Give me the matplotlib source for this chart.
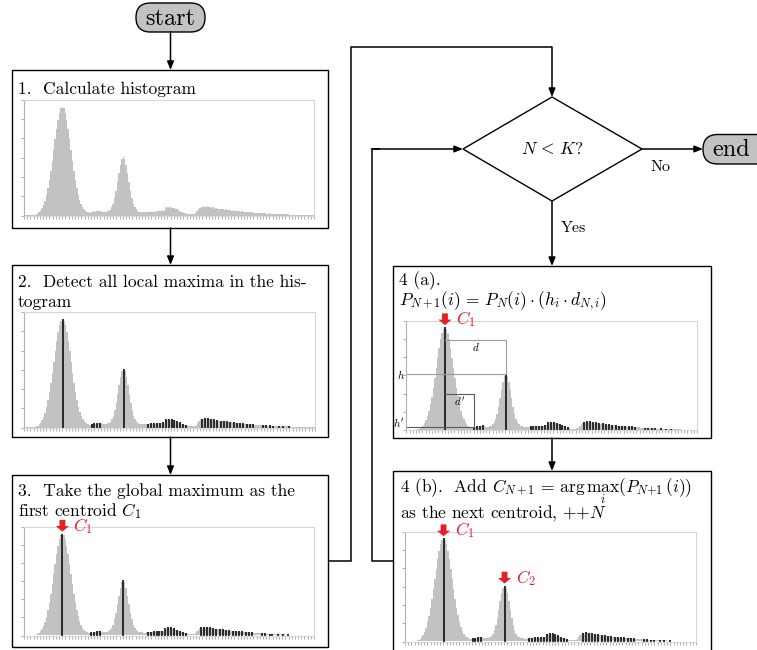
import numpy as np
import matplotlib
matplotlib.use('Agg')
import matplotlib.pyplot as plt
from matplotlib.patches import FancyBboxPatch, Rectangle, Polygon
import matplotlib.transforms as mtransforms

plt.rcParams['font.family'] = 'cmr10'
plt.rcParams['mathtext.fontset'] = 'cm'
plt.rcParams['axes.unicode_minus'] = False

# ---------------- data (histogram, 200 bins) ----------------
hist = [
    1, 1, 1, 2, 2, 3, 4, 6, 10, 17,
    27, 41, 62, 90, 127, 174, 234, 304, 385, 474,
    568, 662, 750, 827, 886, 924, 937, 924, 886, 827,
    750, 662, 568, 474, 386, 306, 237, 178, 132, 96,
    70, 52, 39, 31, 26, 24, 30, 27, 36, 33,
    41, 37, 42, 36, 31, 29, 31, 35, 40, 51,
    71, 101, 148, 210, 288, 368, 438, 489, 507, 489,
    438, 368, 288, 210, 148, 101, 71, 52, 40, 33,
    30, 28, 27, 26, 28, 32, 30, 35, 33, 37,
    34, 39, 36, 40, 38, 45, 42, 70, 64, 76,
    68, 74, 62, 66, 52, 55, 42, 45, 32, 34,
    22, 24, 15, 13, 11, 10, 11, 14, 22, 38,
    55, 68, 76, 70, 82, 74, 80, 72, 77, 66,
    70, 60, 64, 56, 58, 60, 52, 57, 49, 53,
    46, 50, 44, 42, 44, 38, 41, 36, 39, 33,
    37, 32, 31, 34, 29, 32, 27, 30, 25, 24,
    23, 22, 21, 20, 22, 18, 20, 16, 17, 18,
    15, 17, 13, 12, 13, 14, 11, 11, 12, 10,
    9, 9, 10, 8, 7, 6, 6, 5, 5, 4,
    4, 4, 3, 3, 3, 2, 2, 2, 1, 1,
]
y_max = 1000
d_box_level = 823      # height of the "d" bracket in panel 4(a)
dp_box_level = 326     # height of the "d'" bracket in panel 4(a)

texts_box1 = ["1.  Calculate histogram"]
texts_box2 = ["2.  Detect all local maxima in the his-", "togram"]
texts_box3 = ["3.  Take the global maximum as the", "first centroid $C_1$"]
texts_box4a = ["4 (a).", r"$P_{N+1}(i)\,=\,P_N(i) \cdot (h_i \cdot d_{N,i})$"]
texts_box4b = [r"4 (b).  Add $C_{N+1}\,=\,\arg\max_i(P_{N+1}(i))$", "as the next centroid, ${+}{+}N$"]

h = np.array(hist)
n = len(h)
maxima = np.array([i for i in range(1, n - 1) if h[i] > h[i - 1] and h[i] > h[i + 1]])
order = maxima[np.argsort(h[maxima])[::-1]]
c1, c2 = order[0], order[1]
dp = [m for m in maxima if m > c1 and m != c2][0]

RED = '#e41f26'
GRAY = '#c2c2c2'

W, H = 757, 650
fig = plt.figure(figsize=(W / 100, H / 100), dpi=100)
base = fig.add_axes([0, 0, 1, 1])
base.set_xlim(0, W)
base.set_ylim(H, 0)
base.axis('off')

FS = 12.5


def box(x0, y0, x1, y1):
    base.add_patch(Rectangle((x0, y0), x1 - x0, y1 - y0, fill=False, lw=1.0, ec='black', zorder=2))


def arrow(p0, p1):
    base.annotate('', xy=p1, xytext=p0,
                  arrowprops=dict(arrowstyle='-|>,head_length=0.5,head_width=0.2', lw=1.1,
                                  color='black', shrinkA=0, shrinkB=0))


def line(xs, ys):
    base.plot(xs, ys, color='black', lw=1.1, solid_capstyle='butt', solid_joinstyle='miter')


def pill(x0, y0, x1, y1, label, tx):
    base.add_patch(FancyBboxPatch((x0, y0), x1 - x0, y1 - y0,
                                  boxstyle='round,pad=0,rounding_size=%g' % ((y1 - y0) / 2),
                                  fc=GRAY, ec='black', lw=1.0, zorder=3))
    base.text(tx, (y0 + y1) / 2 + 1, label, fontsize=17.5, ha='center', va='center', zorder=4)


def hax(x0, y0, x1, y1):
    ax = fig.add_axes([x0 / W, 1 - y1 / H, (x1 - x0) / W, (y1 - y0) / H])
    xe = np.arange(n + 1)
    ax.fill_between(xe, np.append(h, h[-1]), step='post', color=GRAY, lw=0)
    ax.set_xlim(0, n)
    ax.set_ylim(0, y_max)
    ax.set_yticks(np.linspace(0, y_max, 7))
    ax.set_xticks(np.arange(0, n + 1, 2.2))
    ax.tick_params(axis='both', length=2, width=0.5, color='#8a8a8a',
                   labelleft=False, labelbottom=False)
    for s in ax.spines.values():
        s.set_color('#d6d6d6')
        s.set_linewidth(0.8)
    ax.spines['left'].set_color('#b0b0b0')
    ax.patch.set_alpha(0)
    return ax


def vlines(ax):
    ax.vlines(maxima + 0.5, 0, h[maxima], color='black', lw=1.1)


def red_arrow(ax, i, label):
    x, y = i + 0.5, h[i]
    ax.annotate('', xy=(x, y), xytext=(0, 14), textcoords='offset pixels',
                arrowprops=dict(arrowstyle='simple,head_length=0.4,head_width=0.95,tail_width=0.42',
                                color=RED, lw=0, shrinkA=0, shrinkB=1.6), annotation_clip=False)
    ax.annotate(label, xy=(x, y), xytext=(11, 8), textcoords='offset pixels', color=RED,
                fontsize=12.5, ha='left', va='center', annotation_clip=False)


def put_text(x, ys, lines):
    for yy, t in zip(ys, lines):
        base.text(x, yy, t, fontsize=FS, va='baseline', ha='left')


# ---------------- flowchart frame ----------------
pill(136, 3, 205, 32, 'start', 170.5)
arrow((170.5, 32), (170.5, 70))

box(12, 70, 328, 228)
put_text(18, [94], texts_box1)
arrow((170.5, 228), (170.5, 265))

box(12, 265, 328, 437)
put_text(18, [287, 307], texts_box2)
arrow((170.5, 437), (170.5, 475))

box(12, 475, 328, 647)
put_text(18, [496, 516], texts_box3)

# connector from box 3 to the decision
line([328, 350.5, 350.5, 552], [560.5, 560.5, 47, 47])
arrow((552, 47), (552, 97))

# decision diamond
base.add_patch(Polygon([(552, 97), (642, 149), (552, 201), (463, 149)], closed=True,
                       fill=False, ec='black', lw=1.0))
base.text(552, 149, r'$N\,<\,K?$', fontsize=FS, ha='center', va='center')
arrow((642, 149), (703, 149))
base.text(661, 167, 'No', fontsize=FS - 1, ha='center', va='center')
pill(703, 134.5, 790, 164, 'end', 731)

arrow((552, 201), (552, 266))
base.text(573, 228, 'Yes', fontsize=FS - 1, ha='center', va='center')

box(393, 266, 711, 438)
put_text(399, [285, 305], texts_box4a)
arrow((552, 438), (552, 471))

box(393, 471, 711, 660)
put_text(400, [492.5, 518], texts_box4b)

# return connector
line([393, 372, 372, 380], [560.5, 560.5, 149, 149])
arrow((371.5, 149), (463, 149))

# ---------------- histograms ----------------
ax1 = hax(24, 99.5, 314, 215.5)

ax2 = hax(24, 312, 315, 427.5)
vlines(ax2)

ax3 = hax(24, 527, 314, 635.5)
vlines(ax3)
red_arrow(ax3, c1, '$C_1$')

ax4 = hax(406.5, 320.5, 697, 430)
vlines(ax4)
red_arrow(ax4, c1, '$C_1$')
c1x, c2x, dpx = c1 + 0.5, c2 + 0.5, dp + 0.5
ax4.plot([c1x, c2x, c2x], [d_box_level, d_box_level, h[c2]], color='#9c9c9c', lw=0.8)
ax4.plot([0, c2x], [h[c2], h[c2]], color='#9c9c9c', lw=0.8)
ax4.plot([c1x, dpx, dpx], [dp_box_level, dp_box_level, h[dp]], color='#5a5a5a', lw=0.8)
ax4.plot([0, dpx], [h[dp], h[dp]], color='#5a5a5a', lw=0.8)
ax4.text((c1x + c2x) / 2, 762, '$d$', fontsize=8, ha='center', va='center')
ax4.text((c1x + dpx) / 2, 250, "$d'$", fontsize=8, ha='center', va='center')
blend = mtransforms.blended_transform_factory(ax4.transAxes, ax4.transData)
ax4.text(-0.005, h[c2], '$h$', transform=blend, fontsize=8, ha='right', va='center')
ax4.text(-0.005, h[dp] + 40, "$h'$", transform=blend, fontsize=8, ha='right', va='center')

ax5 = hax(405, 531.5, 696, 641.5)
vlines(ax5)
red_arrow(ax5, c1, '$C_1$')
red_arrow(ax5, c2, '$C_2$')

fig.savefig('out.png', dpi=100)
